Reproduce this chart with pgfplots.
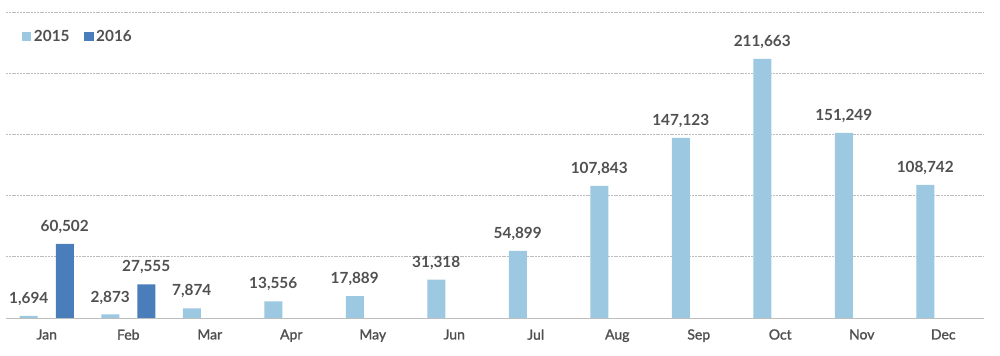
\documentclass[border=0pt]{standalone}
\usepackage{fontspec}
\setmainfont{Lato}
\newfontfamily\medfont[FakeBold=1.5]{Lato}
\usepackage{pgfplots}
\pgfplotsset{compat=1.18}
\definecolor{c15}{HTML}{9DC8E1}
\definecolor{c16}{HTML}{4A7EBB}
\definecolor{txt}{HTML}{505050}
\definecolor{gridc}{HTML}{BDBDBD}
\pgfplotstableread{
x y
0 1694
1 2873
2 7874
3 13556
4 17889
5 31318
6 54899
7 107843
8 147123
9 211663
10 151249
11 108742
}\dataA
\pgfplotstableread{
x y
0 60502
1 27555
}\dataB
\begin{document}
\begin{tikzpicture}
\useasboundingbox (-4.5pt,-28.5pt) rectangle (745.5pt,238.5pt);
\begin{axis}[
  at={(0,0)}, anchor=south west,
  scale only axis, width=733.5pt, height=229.5pt,
  xmin=-0.5, xmax=11.5, ymin=0, ymax=250000,
  scaled y ticks=false,
  axis line style={draw=none},
  ytick={0,50000,100000,150000,200000,250000},
  yticklabels={},
  ytick style={draw=none},
  ymajorgrids,
  grid style={gridc, dash pattern=on 1.5pt off 0.6pt, line width=0.6pt},
  xtick={0,...,11},
  xticklabels={Jan,Feb,Mar,Apr,May,Jun,Jul,Aug,Sep,Oct,Nov,Dec},
  xtick style={draw=none},
  xticklabel style={font=\medfont\fontsize{10.5}{12}\selectfont, text=txt, yshift=-5pt},
  /pgf/number format/.cd, fixed, precision=0, 1000 sep={,}, assume math mode=true,
  /pgfplots/.cd,
  legend style={at={(rel axis cs:0.012,0.96)}, anchor=north west, draw=none, fill=none,
    legend columns=2, font=\bfseries\fontsize{11.5}{13}\selectfont, text=txt,
    /tikz/every even column/.append style={column sep=9pt}},
  legend image code/.code={\fill[#1] (0pt,-3.3pt) rectangle (7pt,3.7pt);},
  clip=false,
]
\addplot[ybar, bar width=13.5pt, bar shift=-13.5pt, fill=c15, draw=none,
  nodes near coords,
  every node near coord/.append style={font=\bfseries\fontsize{11.5}{13}\selectfont, text=txt, anchor=south, inner sep=0pt, yshift=7.5pt, xshift=-13.5pt}]
  table[x=x,y=y] {\dataA};
\addlegendentry{\bfseries 2015}
\addplot[ybar, bar width=13.5pt, bar shift=13.5pt, fill=c16, draw=none,
  nodes near coords,
  every node near coord/.append style={font=\bfseries\fontsize{11.5}{13}\selectfont, text=txt, anchor=south, inner sep=0pt, yshift=7.5pt, xshift=13.5pt}]
  table[x=x,y=y] {\dataB};
\addlegendentry{\bfseries 2016}
\draw[gridc, line width=0.7pt] (rel axis cs:0,0) -- (rel axis cs:1,0);
\end{axis}
\end{tikzpicture}
\end{document}
